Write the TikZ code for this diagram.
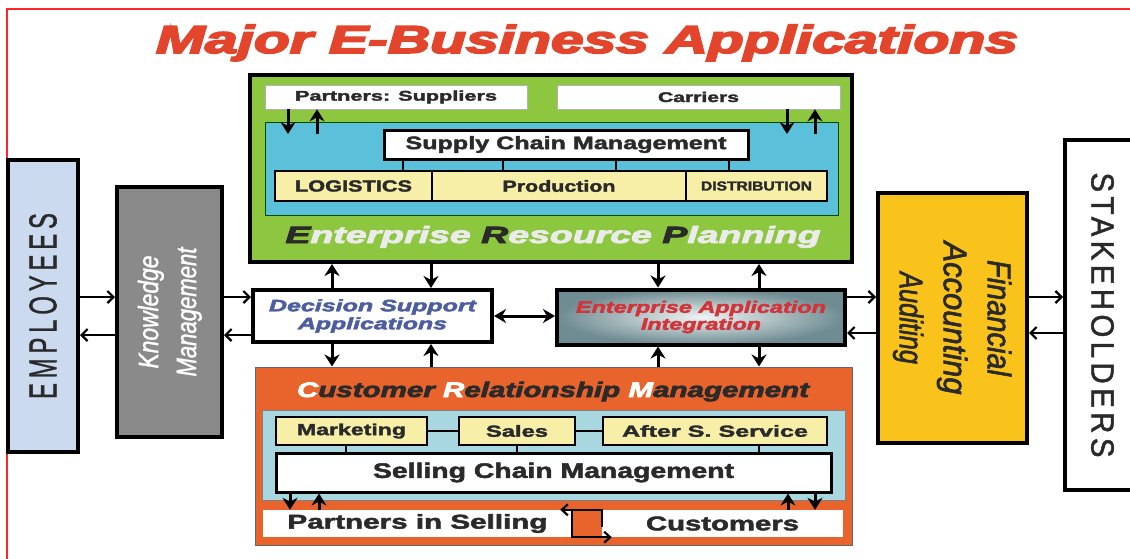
\documentclass[tikz,border=0pt]{standalone}
\usepackage{fontspec}
\setmainfont{Liberation Sans}
\usetikzlibrary{arrows.meta,calc}

\definecolor{titlered}{HTML}{E2452B}
\definecolor{erpgreen}{HTML}{8DC63F}
\definecolor{scmblue}{HTML}{5BC0DA}
\definecolor{cellyellow}{HTML}{F7EFA8}
\definecolor{crmorange}{HTML}{E8642C}
\definecolor{crmblue}{HTML}{A9D7E0}
\definecolor{empblue}{HTML}{CCDAF0}
\definecolor{kmgray}{HTML}{8A8A8A}
\definecolor{fingold}{HTML}{F9C31B}
\definecolor{dssblue}{HTML}{4D5EA0}
\definecolor{eaired}{HTML}{D2343A}
\definecolor{eaiin}{HTML}{EEF4F4}
\definecolor{eaiout}{HTML}{6F8C92}
\definecolor{ink}{HTML}{2A2A2A}

% stretch a text to a given width, keep its height
\newcommand{\fitw}[2]{\resizebox{#1}{\height}{#2}}
\newcommand{\fsz}[1]{\fontsize{#1}{#1}\selectfont}
\newcommand{\heavy}[1]{\addfontfeature{FakeBold=#1}}

\begin{document}
\begin{tikzpicture}[x=1pt,y=-1pt,
  bigbox/.style={draw=black,line width=4pt,inner sep=0pt},
  cellbox/.style={draw=black,line width=2.8pt,fill=cellyellow,inner sep=0pt,text=ink,font=\bfseries\fsz{16}\heavy{2}},
  whitebox/.style={draw=gray!60,line width=0.6pt,fill=white,inner sep=0pt,text=ink},
  arr/.style={line width=3pt,-{Stealth[length=12pt,width=15pt]}},
  harr/.style={line width=2.2pt,-{Straight Barb[length=6pt,width=12pt]}},
  tick/.style={line width=2.5pt}]

\path[use as bounding box,clip] (0,0) rectangle (1130,558);
\draw[red!85,line width=1.5pt] (7,560) -- (7,9) -- (1135,9);

\node[anchor=base,text=titlered,font=\bfseries\itshape\fsz{39}\heavy{4}] (title) at (587,53) {\fitw{862pt}{Major E-Business Applications}};

% ERP
\node[bigbox,fill=erpgreen,minimum width=602pt,minimum height=187pt] (erp) at (551,168.5) {};
\node[whitebox,minimum width=262pt,minimum height=24pt,font=\bfseries\fsz{14}\heavy{2}] (sup) at (396,97) {\fitw{202pt}{Partners: Suppliers}};
\node[whitebox,minimum width=283pt,minimum height=24pt,font=\bfseries\fsz{14}\heavy{2}] (car) at (698.5,97) {\fitw{81pt}{Carriers}};
\node[draw=black!70!green,line width=0.8pt,fill=scmblue,minimum width=573pt,minimum height=93pt,inner sep=0pt] (scmb) at (551.5,168.5) {};
\node[draw,line width=3pt,fill=white,minimum width=364pt,minimum height=29pt,inner sep=0pt,text=ink,font=\bfseries\fsz{18}\heavy{2}] (scm) at (566,144.5) {\fitw{321pt}{Supply Chain Management}};
\node[cellbox,minimum width=157pt,minimum height=30pt] (log) at (353.5,186) {\fitw{117pt}{LOGISTICS}};
\node[cellbox,minimum width=254pt,minimum height=30pt] (prod) at (559,186) {\fitw{113pt}{Production}};
\node[cellbox,minimum width=141pt,minimum height=30pt,font=\bfseries\fsz{13}\heavy{2}] (dist) at (756.5,186) {\fitw{111pt}{DISTRIBUTION}};
\foreach \x in {403,503,616,729}{
  \coordinate (tk) at (\x,0);
  \draw[tick] (scm.south -| tk) -- (log.north -| tk);
}
\coordinate (sd) at (288,134);
\coordinate (su) at (317,134);
\coordinate (cd) at (787,134);
\coordinate (cu) at (815,134);
\draw[arr] (sup.south -| sd) -- (sd);
\draw[arr] (su) -- (sup.south -| su);
\draw[arr] (car.south -| cd) -- (cd);
\draw[arr] (cu) -- (car.south -| cu);
\node[anchor=base,text=white!92!black,font=\bfseries\itshape\fsz{23.5}\heavy{3}] (erptxt) at (553,243) {\fitw{535pt}{\textcolor{ink}{E}nterprise \textcolor{ink}{R}esource \textcolor{ink}{P}lanning}};

% middle row
\node[bigbox,fill=white,minimum width=239pt,minimum height=52pt,text=dssblue,font=\bfseries\itshape\fontsize{16.5}{18}\selectfont\heavy{2.5},align=center] (dss) at (372.5,316) {\fitw{207pt}{Decision Support}\\\fitw{149pt}{Applications}};
\node[bigbox,inner color=eaiin,outer color=eaiout,minimum width=288pt,minimum height=55pt,text=eaired,font=\bfseries\itshape\fontsize{16.5}{17}\selectfont\heavy{2.5},align=center] (eai) at (701,317) {\fitw{250pt}{Enterprise Application}\\\fitw{120pt}{Integration}};
\draw[line width=3pt,{Stealth[length=12pt,width=14pt]}-{Stealth[length=12pt,width=14pt]}] (dss.east) -- (eai.west |- dss.east);

% CRM
\node[draw=black!60,line width=1pt,fill=crmorange,minimum width=597pt,minimum height=178pt,inner sep=0pt] (crm) at (553.5,456) {};
\node[anchor=base,text=ink,font=\bfseries\itshape\fsz{21}\heavy{3}] (crmtxt) at (553,397) {\fitw{512pt}{\textcolor{white}{C}ustomer \textcolor{white}{R}elationship \textcolor{white}{M}anagement}};
\node[draw=black!50,line width=0.6pt,fill=crmblue,minimum width=583pt,minimum height=90pt,inner sep=0pt] (crmb) at (553.5,455) {};
\node[cellbox,minimum width=151pt,minimum height=28pt] (mkt) at (351.5,431) {\fitw{109pt}{Marketing}};
\node[cellbox,minimum width=116pt,minimum height=28pt] (sales) at (517,431) {\fitw{62pt}{Sales}};
\node[cellbox,minimum width=224pt,minimum height=28pt] (ass) at (715,431) {\fitw{186pt}{After S. Service}};
\node[draw,line width=3pt,fill=white,minimum width=555pt,minimum height=39pt,inner sep=0pt,text=ink,font=\bfseries\fsz{21}\heavy{2}] (slcm) at (553.5,472.5) {\fitw{361pt}{Selling Chain Management}};
\draw[tick] (mkt.east) -- (sales.west);
\draw[tick] (sales.east) -- (ass.west);
\foreach \x in {346,517,759}{
  \coordinate (tk) at (\x,0);
  \draw[tick] (mkt.south -| tk) -- (slcm.north -| tk);
}
\node[fill=white,minimum width=309pt,minimum height=27pt,inner sep=0pt,text=ink,font=\bfseries\fsz{20}\heavy{2}] (pis) at (417.5,523.5) {\raisebox{-2pt}{\fitw{260pt}{Partners in Selling}}};
\node[fill=white,minimum width=241pt,minimum height=27pt,inner sep=0pt,text=ink,font=\bfseries\fsz{20}\heavy{2}] (cust) at (722.5,523.5) {\fitw{153pt}{Customers}};
\coordinate (pd) at (290,0);
\coordinate (pu) at (319,0);
\coordinate (ku) at (788,0);
\coordinate (kd) at (815,0);
\draw[arr] (slcm.south -| pd) -- (pis.north -| pd);
\draw[arr] (pis.north -| pu) -- (slcm.south -| pu);
\draw[arr] (cust.north -| ku) -- (slcm.south -| ku);
\draw[arr] (slcm.south -| kd) -- (cust.north -| kd);
\draw[line width=2.2pt,-{Straight Barb[length=6pt,width=11pt]}] ($(cust.north west)+(0,17)$) -- (cust.north west) -- ($(pis.north east)+(-12,0)$);
\draw[line width=2.2pt,-{Straight Barb[length=6pt,width=11pt]}] (pis.north east) -- (pis.south east) -- ($(cust.south west)+(10,0)$);

% vertical links
\coordinate (v1) at (332,0);
\coordinate (v2) at (431,0);
\coordinate (v3) at (658,0);
\coordinate (v4) at (759,0);
\draw[arr] (dss.north -| v1) -- (erp.south -| v1);
\draw[arr] (erp.south -| v2) -- (dss.north -| v2);
\draw[arr] (erp.south -| v3) -- (eai.north -| v3);
\draw[arr] (eai.north -| v4) -- (erp.south -| v4);
\draw[arr] (dss.south -| v1) -- (crm.north -| v1);
\draw[arr] (crm.north -| v2) -- (dss.south -| v2);
\draw[arr] (crm.north -| v3) -- (eai.south -| v3);
\draw[arr] (eai.south -| v4) -- (crm.north -| v4);

% sides
\node[bigbox,fill=empblue,minimum width=70pt,minimum height=292pt,text=ink,font=\fsz{39}\heavy{1}] (emp) at (43,306) {\rotatebox{90}{\fitw{186pt}{\addfontfeature{LetterSpace=20}EMPLOYEES}}};
\node[bigbox,fill=kmgray,minimum width=105pt,minimum height=250pt,text=white,font=\itshape\fontsize{28}{38}\selectfont\heavy{1.5}] (km) at (169.5,312) {\rotatebox{90}{\begin{tabular}{@{}c@{}}\fitw{113pt}{Knowledge}\\\fitw{129pt}{Management}\end{tabular}}};
\node[bigbox,fill=fingold,minimum width=149pt,minimum height=250pt,text=ink,font=\itshape\fontsize{33}{44}\selectfont\heavy{2}] (fin) at (952.5,318) {\rotatebox{-90}{\begin{tabular}{@{}c@{}}\fitw{116pt}{Financial}\\\fitw{153pt}{Accounting}\\\fitw{92pt}{Auditing}\end{tabular}}};
\node[bigbox,fill=white,minimum width=75pt,minimum height=350pt,text=ink,font=\fsz{32}\heavy{1.5}] (stk) at (1102.5,315) {\rotatebox{-90}{\fitw{285pt}{\addfontfeature{LetterSpace=15}STAKEHOLDERS}}};

\coordinate (h1) at (0,297);
\coordinate (h2) at (0,335);
\coordinate (h3) at (0,333);
\draw[harr] (emp.east |- h1) -- (km.west |- h1);
\draw[harr] (km.west |- h2) -- (emp.east |- h2);
\draw[harr] (km.east |- h1) -- (dss.west |- h1);
\draw[harr] (dss.west |- h2) -- (km.east |- h2);
\draw[harr] (eai.east |- h1) -- (fin.west |- h1);
\draw[harr] (fin.west |- h3) -- (eai.east |- h3);
\draw[harr] (fin.east |- h1) -- (stk.west |- h1);
\draw[harr] (stk.west |- h3) -- (fin.east |- h3);
\end{tikzpicture}
\end{document}
